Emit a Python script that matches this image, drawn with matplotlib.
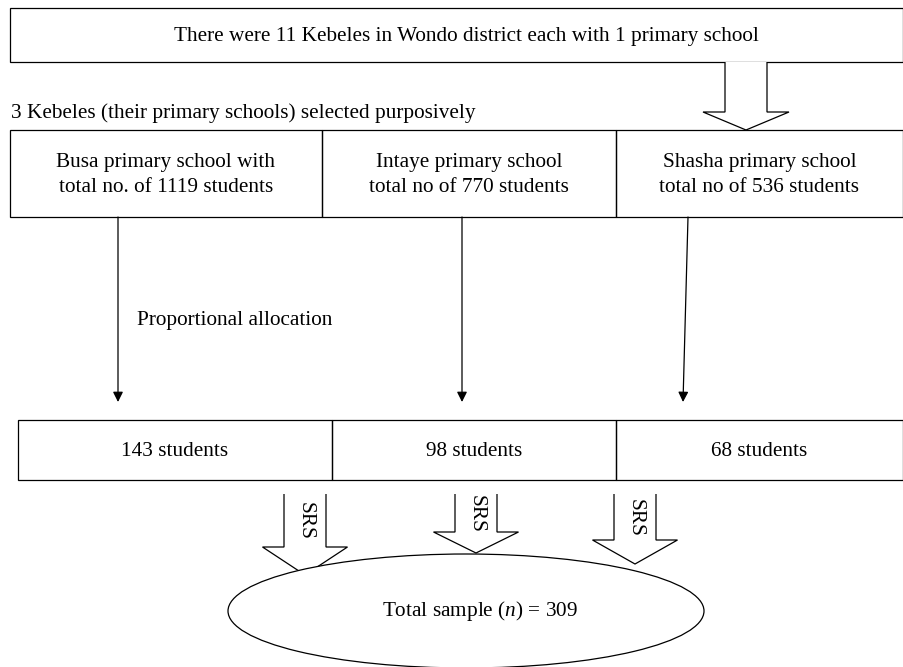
import matplotlib
matplotlib.use("Agg")
import matplotlib.pyplot as plt
from matplotlib.patches import Rectangle, Polygon, Ellipse

plt.rcParams['font.family'] = ['Liberation Serif', 'DejaVu Serif']
plt.rcParams['mathtext.fontset'] = 'custom'
plt.rcParams['mathtext.rm'] = 'Liberation Serif'
plt.rcParams['mathtext.it'] = 'Liberation Serif:italic'

# data
n_kebeles = 11
n_selected = 3
schools = ['Busa', 'Intaye', 'Shasha']
school_totals = [1119, 770, 536]
school_labels = ['Busa primary school with\ntotal no. of 1119 students',
                 'Intaye primary school\ntotal no of 770 students',
                 'Shasha primary school\ntotal no of 536 students']
sample_sizes = [143, 98, 68]
total_sample = sum(sample_sizes)

W, H = 904, 667
fig = plt.figure(figsize=(W / 100, H / 100), dpi=100)
ax = fig.add_axes([0, 0, 1, 1])
ax.set_xlim(0, W)
ax.set_ylim(H, 0)
ax.axis('off')

lw = 0.9
fs = 15.3


def box(x0, y0, x1, y1):
    ax.add_patch(Rectangle((x0, y0), x1 - x0, y1 - y0, fill=False, ec='black', lw=lw))


def hollow_arrow(cx, y_top, y_base, y_tip, shaft_w, head_w):
    pts = [(cx - shaft_w / 2, y_top), (cx - shaft_w / 2, y_base), (cx - head_w / 2, y_base),
           (cx, y_tip), (cx + head_w / 2, y_base), (cx + shaft_w / 2, y_base),
           (cx + shaft_w / 2, y_top)]
    ax.add_patch(Polygon(pts, closed=False, fill=True, fc='white', ec='black', lw=lw, zorder=2))


# top box
box(10, 8, 903, 62)
ax.text(466, 37, f'There were {n_kebeles} Kebeles in Wondo district each with 1 primary school',
        ha='center', va='center', fontsize=fs)

hollow_arrow(746, 62, 112, 130, 42, 86)
ax.text(11, 113, f'{n_selected} Kebeles (their primary schools) selected purposively',
        ha='left', va='center', fontsize=fs)

# school row
row1_x = [10, 322, 616, 903]
for i, lab in enumerate(school_labels):
    box(row1_x[i], 130, row1_x[i + 1], 217)
    ax.text((row1_x[i] + row1_x[i + 1]) / 2, 175, lab, ha='center', va='center',
            fontsize=fs, linespacing=1.45)

# allocation arrows
arrow_top = [118, 462, 688]
arrow_bot = [118, 462, 683]
for xt, xb in zip(arrow_top, arrow_bot):
    ax.annotate('', xy=(xb, 402), xytext=(xt, 217),
                arrowprops=dict(arrowstyle='-|>', color='black', lw=lw,
                                mutation_scale=15, shrinkA=0, shrinkB=0))
ax.text(137, 321, 'Proportional allocation', ha='left', va='center', fontsize=fs)

# sample row
row2_x = [18, 332, 616, 903]
for i, n in enumerate(sample_sizes):
    box(row2_x[i], 420, row2_x[i + 1], 480)
    ax.text((row2_x[i] + row2_x[i + 1]) / 2, 451, f'{n} students', ha='center',
            va='center', fontsize=fs)

# SRS arrows
srs = [(305, 547, 575), (476, 532, 553), (635, 540, 564)]
for cx, yb, yt in srs:
    hollow_arrow(cx, 494, yb, yt, 42, 85)
    ax.text(cx, (494 + yb) / 2 + 1, 'SRS', rotation=270, ha='center', va='center', fontsize=fs)

# total ellipse
ax.add_patch(Ellipse((466, 611), 476, 114, fc='white', ec='black', lw=lw, zorder=3))
ax.text(480, 611, f'Total sample ($n$) = {total_sample}', ha='center', va='center',
        fontsize=fs, zorder=4)

fig.savefig('out.png', dpi=100)
